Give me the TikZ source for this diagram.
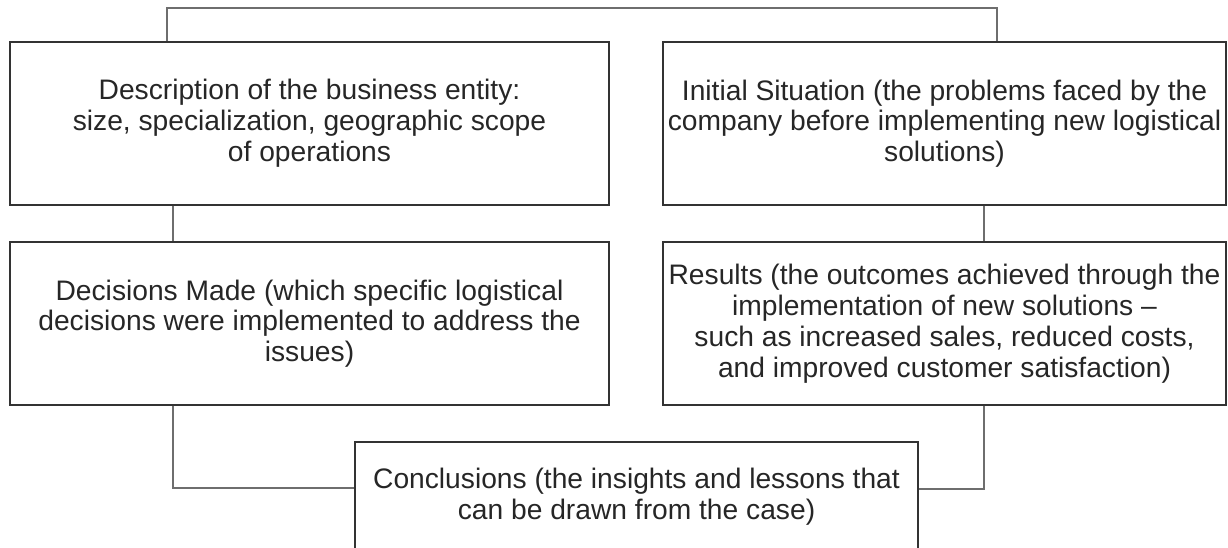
\documentclass[tikz,border=0pt]{standalone}
\usepackage{fontspec}
\setmainfont{Liberation Sans}
\usetikzlibrary{calc}
\definecolor{boxline}{HTML}{333333}
\definecolor{connline}{HTML}{6E6E6E}
\definecolor{txt}{HTML}{262626}
\begin{document}
\begin{tikzpicture}[x=1pt,y=-1pt,
  box/.style={draw=boxline,line width=1.1pt,rectangle,inner sep=0pt,align=center,
    text=txt,font=\fontsize{28.2}{30.8}\selectfont},
  conn/.style={draw=connline,line width=1.1pt}]
\useasboundingbox (0,0) rectangle (1228,547);
\clip (0,0) rectangle (1228,547);
\node[box,minimum width=599pt,minimum height=163pt] (b1) at (309.5,123.5)
  {Description of the business entity:\\size, specialization, geographic scope\\of operations};
\node[box,minimum width=563pt,minimum height=163pt] (b2) at (944.5,123.5)
  {Initial Situation (the problems faced by the\\company before implementing new logistical\\solutions)};
\node[box,minimum width=599pt,minimum height=163pt] (b3) at (309.5,323.5)
  {Decisions Made (which specific logistical\\decisions were implemented to address the\\issues)};
\node[box,minimum width=563pt,minimum height=163pt] (b4) at (944.5,323.5)
  {Results (the outcomes achieved through the\\implementation of new solutions –\\such as increased sales, reduced costs,\\and improved customer satisfaction)};
\node[box,minimum width=563pt,minimum height=110pt] (b5) at (636.5,497)
  {Conclusions (the insights and lessons that\\can be drawn from the case)};
\coordinate (ta) at (167,8);
\coordinate (tb) at (997,8);
\coordinate (va) at (173,488);
\coordinate (vb) at (984,489);
\draw[conn] (b1.north -| ta) -- (ta) -- (tb) -- (b2.north -| tb);
\draw[conn] (b1.south -| va) -- (b3.north -| va);
\draw[conn] (b2.south -| vb) -- (b4.north -| vb);
\draw[conn] (b3.south -| va) -- (va) -- (va -| b5.west);
\draw[conn] (b4.south -| vb) -- (vb) -- (vb -| b5.east);
\end{tikzpicture}
\end{document}
